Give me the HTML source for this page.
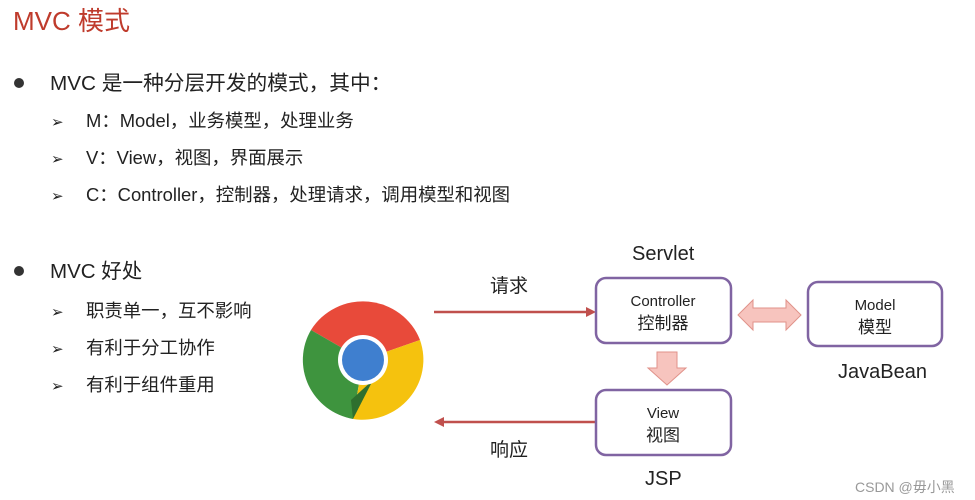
<!DOCTYPE html>
<html><head><meta charset="utf-8"><style>
html,body{margin:0;padding:0;background:#fff;}
svg{display:block;}
text{font-family:"Liberation Sans","Noto Sans CJK SC",sans-serif;}
</style></head><body>
<svg width="975" height="500" viewBox="0 0 975 500" xmlns="http://www.w3.org/2000/svg">
<text x="13" y="30" font-size="26" fill="#bf3b2c">MVC 模式</text>
<circle cx="19" cy="83" r="5" fill="#333"/>
<text x="50" y="90" font-size="20.7" fill="#222">MVC 是一种分层开发的模式，其中：</text>
<g font-size="18.4" fill="#222">
<text x="51" y="127" font-size="15">➢</text><text x="86" y="127">M：Model，业务模型，处理业务</text>
<text x="51" y="164" font-size="15">➢</text><text x="86" y="164">V：View，视图，界面展示</text>
<text x="51" y="201" font-size="15">➢</text><text x="86" y="201">C：Controller，控制器，处理请求，调用模型和视图</text>
</g>
<circle cx="19" cy="271" r="5" fill="#333"/>
<text x="50" y="278" font-size="20.5" fill="#222">MVC 好处</text>
<g font-size="18.4" fill="#222">
<text x="51" y="317" font-size="15">➢</text><text x="86" y="317">职责单一，互不影响</text>
<text x="51" y="354" font-size="15">➢</text><text x="86" y="354">有利于分工协作</text>
<text x="51" y="391" font-size="15">➢</text><text x="86" y="391">有利于组件重用</text>
</g>
<!-- chrome -->
<g transform="translate(363,360)">
<path d="M0,0 L-52,-30 A61,60 0 0 1 57,-20 Z" fill="#e84a3a"/>
<path d="M0,0 L-52,-30 A61,60 0 0 0 -10,59 Z" fill="#3e943e"/>
<path d="M0,0 L57,-20 A61,60 0 0 1 -10,59 Z" fill="#f5c20e"/>
<path d="M-10,59 L-12,40 L10,20 Z" fill="#2e6f2e"/>
<circle r="25" fill="#fff"/>
<circle r="21" fill="#3f7fcf"/>
</g>
<!-- arrows -->
<line x1="434" y1="312" x2="588" y2="312" stroke="#c0504d" stroke-width="2.5"/>
<polygon points="596,312 586,307 586,317" fill="#c0504d"/>
<line x1="442" y1="422" x2="596" y2="422" stroke="#c0504d" stroke-width="2.5"/>
<polygon points="434,422 444,417 444,427" fill="#c0504d"/>
<text x="490" y="292" font-size="19" fill="#222">请求</text>
<text x="490" y="456" font-size="19" fill="#222">响应</text>
<text x="632" y="260" font-size="20" fill="#222">Servlet</text>
<text x="838" y="378" font-size="20" fill="#222">JavaBean</text>
<text x="645" y="485" font-size="20" fill="#222">JSP</text>
<!-- boxes -->
<g fill="#fff" stroke="#8064a2" stroke-width="2.5">
<rect x="596" y="278" width="135" height="65" rx="10"/>
<rect x="808" y="282" width="134" height="64" rx="10"/>
<rect x="596" y="390" width="135" height="65" rx="10"/>
</g>
<g font-size="15" fill="#222" text-anchor="middle">
<text x="663" y="306">Controller</text><text x="663" y="329" font-size="17">控制器</text>
<text x="875" y="310">Model</text><text x="875" y="333" font-size="17">模型</text>
<text x="663" y="418">View</text><text x="663" y="441" font-size="17">视图</text>
</g>
<polygon points="738,315 753,300 753,308 786,308 786,300 801,315 786,330 786,322 753,322 753,330" fill="#f7c4be" stroke="#e0928a" stroke-width="1"/>
<polygon points="657,352 677,352 677,368 686,368 667,385 648,368 657,368" fill="#f7c4be" stroke="#e0928a" stroke-width="1"/>
<text x="855" y="492" font-size="14" fill="#999">CSDN @毋小黑</text>
</svg>
</body></html>
